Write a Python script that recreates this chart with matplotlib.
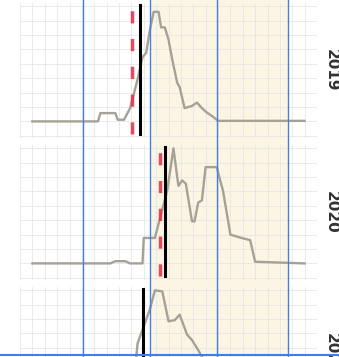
import matplotlib
matplotlib.use('Agg')
from matplotlib import pyplot as plt
from matplotlib.ticker import MultipleLocator

# daily series per season (day of season, relative level)
seasons = ['2019', '2020', '2021']

days19 = [10, 63, 65, 77, 79, 84, 89, 95, 99, 102, 105, 108, 112, 114, 117, 120,
          123, 127, 129, 133, 139, 143, 147, 151, 155, 160, 230]
vals19 = [0, 0, 7.5, 7.5, 1.5, 1.5, 12, 38, 58, 62, 83, 99, 99, 85, 85, 74,
          56, 35, 31, 12, 14, 17, 12, 8, 5, 0.5, 0.5]

days20 = [10, 73, 77, 85, 89, 99, 100, 109, 119, 124, 128, 131, 134, 139, 141,
          144, 147, 150, 159, 162, 164, 170, 179, 186, 190, 230]
vals20 = [0, 0, 2, 2, 0, 0, 23, 23, 66, 104, 70, 75, 72, 38, 38,
          55, 57, 87, 87, 74, 66, 26, 23, 21, 1.5, 0]

days21 = [10, 80, 88, 92, 95, 105, 109, 115, 120, 125, 129, 135, 139, 144, 147,
          155, 165, 178, 190, 230]
vals21 = [0, 0, 5, 22, 56, 87, 104, 103, 76, 77, 82, 64, 59, 50, 44,
          30, 15, 5, 1, 0]

onset_day = [97, 117, 99]        # solid black marker
alert_day = [90.5, 113, None]    # dashed red marker

guide_days = [51, 105, 159, 216.6]
shade_start, shade_end = 105, 216.6

series = [(days19, vals19), (days20, vals20), (days21, vals21)]

W, H = 339, 357
fig = plt.figure(figsize=(W / 100, H / 100), dpi=100)
left, width = 20 / W, 297 / W
xlim = (0, 240)

# background layer: shaded window
bg = fig.add_axes([left, 0, width, 1], zorder=0)
bg.set_xlim(xlim)
bg.set_ylim(0, 1)
bg.axis('off')
bg.axvspan(shade_start, shade_end, color='#fcf5e3', lw=0)

for k, (name, (d, v)) in enumerate(zip(seasons, series)):
    top_px = 3 + 142 * k
    ax = fig.add_axes([left, 1 - (top_px + 135) / H, width, 135 / H], zorder=1)
    ax.set_facecolor('none')
    ax.set_xlim(xlim)
    ax.set_ylim(-15, 107)
    ax.xaxis.set_major_locator(MultipleLocator(10))
    ax.yaxis.set_major_locator(MultipleLocator(13))
    ax.grid(True, color='#e6e6e6', lw=0.6)
    ax.tick_params(length=0, labelbottom=False, labelleft=False)
    for s in ax.spines.values():
        s.set_visible(False)

    ax.plot(d, v, color='#a6a196', lw=1.7, zorder=2)
    if alert_day[k] is not None:
        ax.axvline(alert_day[k], ymin=0.03, ymax=0.95, color='#e23650',
                   lw=2.5, dashes=(3.5, 4.5), alpha=0.9, zorder=3)
    ax.axvline(onset_day[k], ymin=0.03, ymax=0.985, color='black', lw=2.2, zorder=4)

    ax.text(1.047, 0.5, name, transform=ax.transAxes, rotation=270,
            va='center', ha='center', fontsize=11, fontweight='bold', color='#333333')

# foreground layer: guide lines
fg = fig.add_axes([left, 0, width, 1], zorder=5)
fg.set_facecolor('none')
fg.set_xlim(xlim)
fg.set_ylim(0, 1)
fg.axis('off')
for g in guide_days:
    fg.axvline(g, color='#4580e0', lw=1.0)

fig.add_artist(plt.Line2D([0, 1], [0.006, 0.006], color='#3f7ee6', lw=1.5))

fig.savefig('out.png', dpi=100)
plt.close('all')
